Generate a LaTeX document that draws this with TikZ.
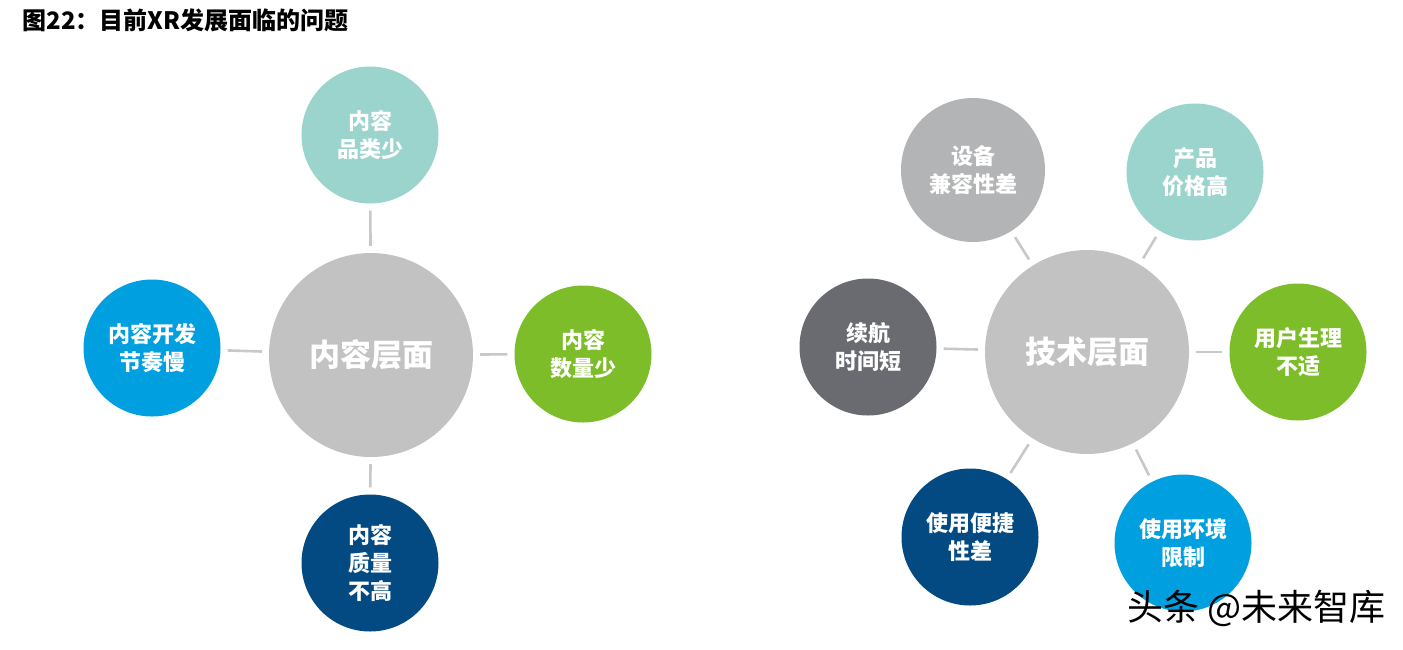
\documentclass[tikz,border=0pt]{standalone}
\usepackage{fontspec}
\setmainfont{Noto Sans CJK SC}
\newfontfamily\cjk{Noto Sans CJK SC}
\definecolor{hubgray}{HTML}{C1C2C1}
\definecolor{itemteal}{HTML}{9BD3CD}
\definecolor{itemblue}{HTML}{00A0E0}
\definecolor{itemgreen}{HTML}{7DBD2A}
\definecolor{itemnavy}{HTML}{034A82}
\definecolor{itemgray}{HTML}{B3B4B5}
\definecolor{itemdark}{HTML}{6A6B70}
\definecolor{linegray}{HTML}{C8C8C8}
\begin{document}
\begin{tikzpicture}
[x=1pt,y=-1pt,
  hubdecorate/.style={shape=circle,inner sep=0pt,minimum size=204pt,fill=hubgray,
    text=white,font=\cjk\bfseries\fontsize{31}{36}\selectfont},%
  itemdecorate/.style={shape=circle,inner sep=0pt,minimum size=137pt,text=white,
    align=center,font=\cjk\bfseries\fontsize{22}{28}\selectfont},%
  linedecorate/.style={draw=linegray,line width=2.6pt,shorten <=7pt,shorten >=7pt}]
\useasboundingbox (0,0) rectangle (1403,649);
% title
\node (title) at (19,20) [anchor=west,font=\cjk\bfseries\fontsize{24}{28}\selectfont] {图22：目前XR发展面临的问题};
% left group
\node (0) at (371,355) [hubdecorate] {内容层面};
\node (1) at (370,135) [itemdecorate,fill=itemteal] {内容\\品类少};
\node (2) at (152,348) [itemdecorate,fill=itemblue] {内容开发\\节奏慢};
\node (3) at (583,354) [itemdecorate,fill=itemgreen] {内容\\数量少};
\node (4) at (370,563) [itemdecorate,fill=itemnavy] {内容\\质量\\不高};
% right group
\node (5) at (1087,352) [hubdecorate] {技术层面};
\node (6) at (973,170) [itemdecorate,fill=itemgray,minimum size=144pt] {设备\\兼容性差};
\node (7) at (1195,172) [itemdecorate,fill=itemteal] {产品\\价格高};
\node (8) at (868,347) [itemdecorate,fill=itemdark] {续航\\时间短};
\node (9) at (1298,352) [itemdecorate,fill=itemgreen] {用户生理\\不适};
\node (10) at (970,537) [itemdecorate,fill=itemnavy] {使用便捷\\性差};
\node (11) at (1183,543) [itemdecorate,fill=itemblue] {使用环境\\限制};
% watermark
\node (mark) at (1124,608) [anchor=west,font=\cjk\fontsize{36}{40}\selectfont] {头条 @未来智库};
% edges or lines
\path
(0) edge[linedecorate] (1)
(0) edge[linedecorate] (2)
(0) edge[linedecorate] (3)
(0) edge[linedecorate] (4)
(5) edge[linedecorate] (6)
(5) edge[linedecorate] (7)
(5) edge[linedecorate] (8)
(5) edge[linedecorate] (9)
(5) edge[linedecorate] (10)
(5) edge[linedecorate] (11);
\end{tikzpicture}
\end{document}
